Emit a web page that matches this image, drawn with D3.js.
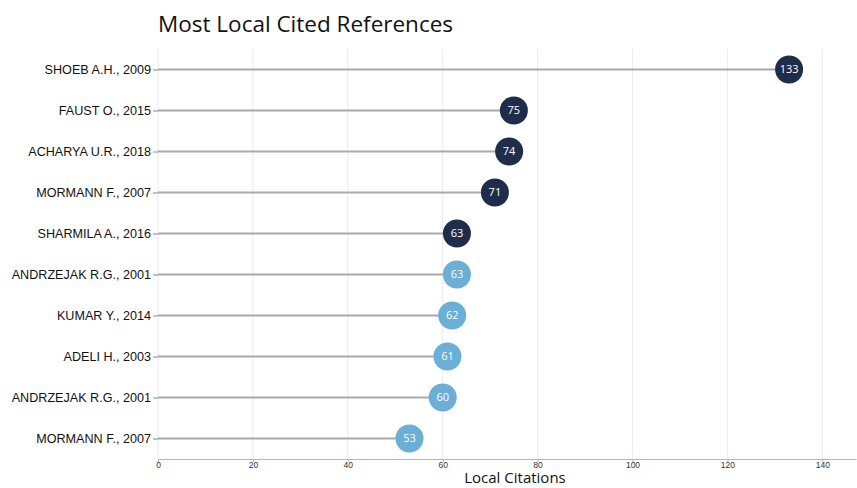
<!DOCTYPE html>
<html>
<head>
<meta charset="utf-8">
<script src="https://cdn.jsdelivr.net/npm/d3@7"></script>
<style>
  body { margin: 0; background: #fff; }
  svg { display: block; font-family: "Open Sans", "Noto Sans", sans-serif; }
</style>
</head>
<body>
<svg id="chart" width="857" height="488"></svg>
<script>
// Most locally cited references and their citation counts
const references = [
  "SHOEB A.H., 2009",
  "FAUST O., 2015",
  "ACHARYA U.R., 2018",
  "MORMANN F., 2007",
  "SHARMILA A., 2016",
  "ANDRZEJAK R.G., 2001",
  "KUMAR Y., 2014",
  "ADELI H., 2003",
  "ANDRZEJAK R.G., 2001 ",
  "MORMANN F., 2007 "
];
const citations = [133, 75, 74, 71, 63, 63, 62, 61, 60, 53];
const xTicks = [0, 20, 40, 60, 80, 100, 120, 140];

const svg = d3.select("#chart");
const margin = { top: 49, right: 1, bottom: 29, left: 158 };
const W = 857, H = 488;

const x = d3.scaleLinear().domain([0, 147.1]).range([margin.left, W - margin.right]);
const y = d3.scalePoint().domain(references).range([margin.top, H - margin.bottom]).padding(0.5);

// vertical gridlines
svg.append("g").selectAll("line").data(xTicks).join("line")
  .attr("x1", d => x(d)).attr("x2", d => x(d))
  .attr("y1", margin.top).attr("y2", H - margin.bottom)
  .attr("stroke", "#ebebeb").attr("stroke-width", 1);

// x axis
const xAxis = svg.append("g")
  .attr("transform", `translate(0,${H - margin.bottom})`)
  .call(d3.axisBottom(x).tickValues(xTicks).tickSize(3).tickPadding(1).tickSizeOuter(0));
xAxis.select(".domain").attr("stroke", "#b5b5b5");
xAxis.selectAll(".tick line").attr("stroke", "#b5b5b5");
xAxis.selectAll("text").attr("font-size", 8.5).attr("fill", "#333").attr("dy", "0.6em");

// y axis labels
const yAxis = svg.append("g")
  .attr("transform", `translate(${margin.left},0)`)
  .call(d3.axisLeft(y).tickSize(5).tickPadding(2));
yAxis.select(".domain").remove();
yAxis.selectAll(".tick line").attr("stroke", "#888");
yAxis.selectAll("text").attr("font-size", 12.6).attr("fill", "#111");

const data = references.map((r, i) => ({ ref: r, value: citations[i], i }));

// stems
svg.append("g").selectAll("line").data(data).join("line")
  .attr("x1", x(0)).attr("x2", d => x(d.value))
  .attr("y1", d => y(d.ref)).attr("y2", d => y(d.ref))
  .attr("stroke", "#a9a9a9").attr("stroke-width", 2);

// dots: top five dark, rest light blue
svg.append("g").selectAll("circle").data(data).join("circle")
  .attr("cx", d => x(d.value)).attr("cy", d => y(d.ref))
  .attr("r", 14)
  .attr("fill", d => d.i < 5 ? "#1f2d4b" : "#6baed6");

svg.append("g").selectAll("text").data(data).join("text")
  .attr("x", d => x(d.value)).attr("y", d => y(d.ref))
  .attr("text-anchor", "middle").attr("dy", "0.35em")
  .attr("font-size", 11).attr("fill", "#fff")
  .text(d => d.value);

// title and axis title
svg.append("text").attr("x", 158).attr("y", 32)
  .attr("font-size", 22.5).attr("fill", "#111").text("Most Local Cited References");
svg.append("text").attr("x", 515).attr("y", 483)
  .attr("text-anchor", "middle").attr("font-size", 15).attr("fill", "#111")
  .text("Local Citations");
</script>
</body>
</html>
